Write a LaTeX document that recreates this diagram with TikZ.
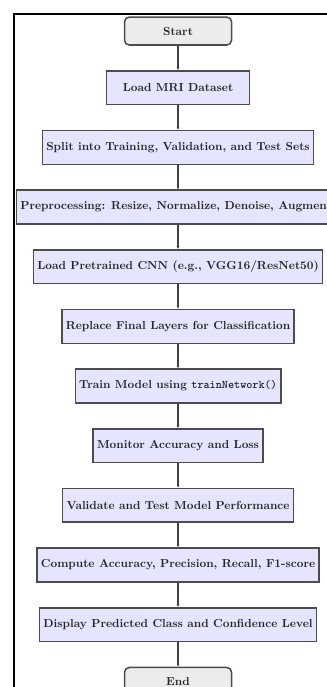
\documentclass[tikz,border=0pt]{standalone}
\usepackage{tikz}
\usetikzlibrary{arrows.meta,positioning}
\begin{document}
\begin{tikzpicture}[node distance=21pt,>={Latex[length=2.5pt,width=2.5pt]}]
  \tikzstyle{stepbox}=[draw=black!70,line width=1.3pt,fill=blue!10,text=black!85,minimum width=123pt,minimum height=29pt,align=center,font=\bfseries]
  \tikzstyle{term}=[draw=black!70,line width=1.3pt,rounded corners=4pt,fill=gray!15,text=black!85,minimum width=92pt,minimum height=24pt,font=\bfseries]
  \tikzstyle{link}=[->,line width=1.1pt,black!75]
  \useasboundingbox (0,0) rectangle (281.2pt,-590.8pt);
  \draw[line width=1.6pt] (12pt,-590.8pt) -- (12pt,-12pt) -- (290pt,-12pt);
  \node[term] (start) at (153.1pt,-26.7pt) {Start};
  \node[stepbox,below=of start] (load) {Load MRI Dataset};
  \node[stepbox,below=of load] (split) {Split into Training, Validation, and Test Sets};
  \node[stepbox,below=of split,xshift=11pt] (prep) {Preprocessing: Resize, Normalize, Denoise, Augmentation};
  \node[stepbox,below=of prep,xshift=-11pt] (cnn) {Load Pretrained CNN (e.g., VGG16/ResNet50)};
  \node[stepbox,below=of cnn] (replace) {Replace Final Layers for Classification};
  \node[stepbox,below=of replace] (train) {Train Model using {\ttfamily\fontseries{b}\selectfont trainNetwork()}};
  \node[stepbox,below=of train] (monitor) {Monitor Accuracy and Loss};
  \node[stepbox,below=of monitor] (valid) {Validate and Test Model Performance};
  \node[stepbox,below=of valid] (metrics) {Compute Accuracy, Precision, Recall, F1-score};
  \node[stepbox,below=of metrics] (display) {Display Predicted Class and Confidence Level};
  \node[term,below=of display] (end) {End};
  \draw[link] (start) -- (load);
  \draw[link] (load) -- (split);
  \draw[link] (split) -- (split |- prep.north);
  \draw[link] (cnn |- prep.south) -- (cnn);
  \draw[link] (cnn) -- (replace);
  \draw[link] (replace) -- (train);
  \draw[link] (train) -- (monitor);
  \draw[link] (monitor) -- (valid);
  \draw[link] (valid) -- (metrics);
  \draw[link] (metrics) -- (display);
  \draw[link] (display) -- (end);
\end{tikzpicture}
\end{document}
